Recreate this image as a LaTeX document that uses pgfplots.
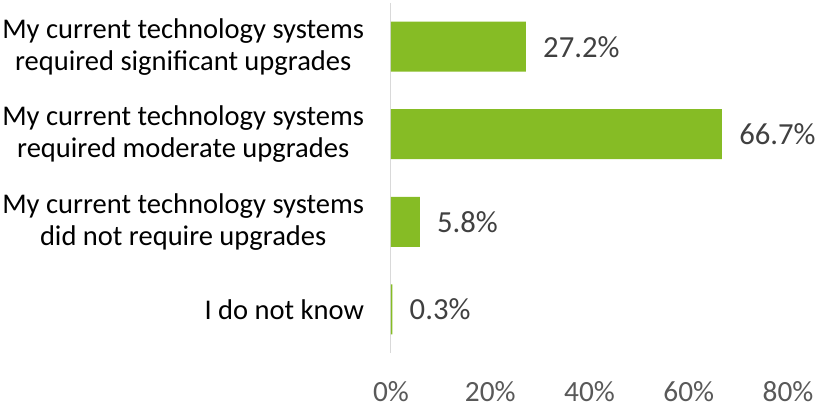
\documentclass[border=0pt]{standalone}
\usepackage{fontspec}
\setmainfont{Carlito}
\usepackage{pgfplots}
\pgfplotsset{compat=1.18}
\definecolor{bargreen}{RGB}{134,188,37}
\definecolor{axisgray}{RGB}{217,217,217}
\definecolor{tickgray}{RGB}{89,89,89}
\definecolor{valgray}{RGB}{64,64,64}
\begin{document}
\begin{tikzpicture}
\begin{axis}[
  at={(0,0)}, anchor=south west,
  scale only axis, width=297.75pt, height=262.5pt,
  xmin=0, xmax=80, ymin=-0.5, ymax=3.5, y dir=reverse,
  xbar, bar width=37.5pt,
  axis lines=left,
  x axis line style={draw=none},
  y axis line style={draw=axisgray, line width=0.75pt, -},
  major tick length=0pt,
  /pgf/number format/assume math mode=true,
  xtick={0,20,40,60,80},
  xticklabel={\pgfmathprintnumber{\tick}\%},
  x tick label style={text=tickgray, font=\fontsize{22}{26}\selectfont, yshift=-18pt},
  ytick={0,1,2,3},
  yticklabels={{My current technology systems\\required significant upgrades},
               {My current technology systems\\required moderate upgrades},
               {My current technology systems\\did not require upgrades},
               {I do not know}},
  y tick label style={align=center, text=black, font=\fontsize{21.4}{23.8}\selectfont, inner sep=0pt, xshift=-20pt},
  nodes near coords={\pgfmathprintnumber[fixed,precision=1,fixed zerofill]{\pgfplotspointmeta}\%},
  nodes near coords style={text=valgray, anchor=west, inner sep=0pt, xshift=12.75pt, font=\fontsize{23}{27}\selectfont},
]
\addplot[fill=bargreen, draw=none] coordinates {(27.2,0) (66.7,1) (5.8,2) (0.3,3)};
\end{axis}
\pgfresetboundingbox
\path[use as bounding box] (-293.25pt,-42.75pt) rectangle (321pt,264.75pt);
\end{tikzpicture}
\end{document}
